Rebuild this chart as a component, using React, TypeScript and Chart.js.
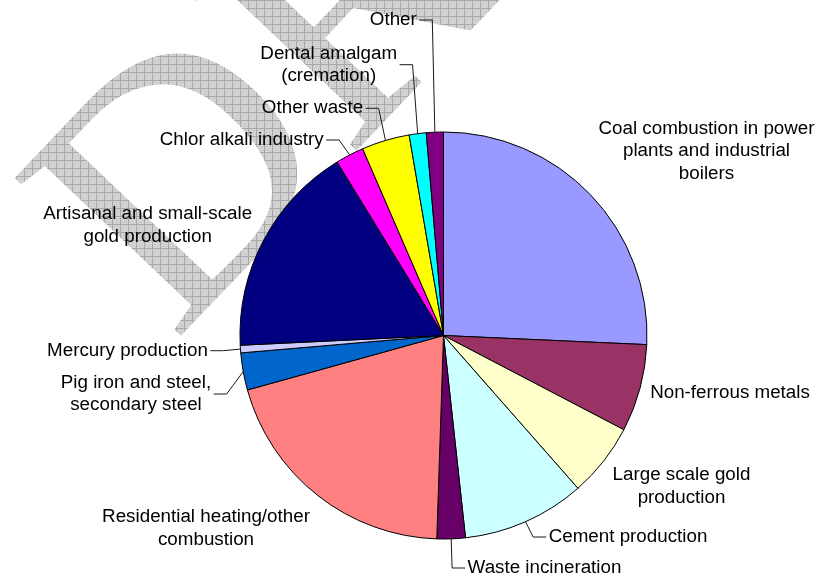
import React, { useEffect, useRef } from "react";
import { Chart, registerables } from "chart.js";

Chart.register(...registerables);

// ---- data ----
const categories = [
  "Coal combustion in power plants and industrial boilers",
  "Non-ferrous metals",
  "Large scale gold production",
  "Cement production",
  "Waste incineration",
  "Residential heating/other combustion",
  "Pig iron and steel, secondary steel",
  "Mercury production",
  "Artisanal and small-scale gold production",
  "Chlor alkali industry",
  "Other waste",
  "Dental amalgam (cremation)",
  "Other",
];

const shares = [25.7, 6.95, 5.85, 9.75, 2.25, 20.15, 2.95, 0.6, 17.0, 2.25, 3.8, 1.35, 1.35];

const labelLines = [
  ["Coal combustion in power", "plants and industrial", "boilers"],
  ["Non-ferrous metals"],
  ["Large scale gold", "production"],
  ["Cement production"],
  ["Waste incineration"],
  ["Residential heating/other", "combustion"],
  ["Pig iron and steel,", "secondary steel"],
  ["Mercury production"],
  ["Artisanal and small-scale", "gold production"],
  ["Chlor alkali industry"],
  ["Other waste"],
  ["Dental amalgam", "(cremation)"],
  ["Other"],
];

const watermarkText = "DRAFT";

// ---- styles / layout ----
const sliceColors = [
  "#9999FF",
  "#993366",
  "#FFFFCC",
  "#CCFFFF",
  "#660066",
  "#FF8080",
  "#0066CC",
  "#CCCCFF",
  "#000080",
  "#FF00FF",
  "#FFFF00",
  "#00FFFF",
  "#800080",
];

// label block centres (canvas px) and whether a leader line is drawn
const labelLayout = [
  { cx: 706.5, cy: 151, leader: false },
  { cx: 730, cy: 393.3, leader: false },
  { cx: 681.5, cy: 486.5, leader: false },
  { cx: 628, cy: 537, leader: true },
  { cx: 544.5, cy: 568, leader: true },
  { cx: 206, cy: 528.5, leader: false },
  { cx: 136, cy: 394, leader: true },
  { cx: 127.5, cy: 350.7, leader: true },
  { cx: 147.7, cy: 225.5, leader: false },
  { cx: 241.7, cy: 140, leader: true },
  { cx: 312.5, cy: 108.3, leader: true },
  { cx: 328.7, cy: 64.7, leader: true },
  { cx: 393.3, cy: 20, leader: true },
];

const FONT = '18.8px "Liberation Sans", Arial, sans-serif';
const LINE_H = 22.6;

const watermarkPlugin = {
  id: "watermark",
  beforeDatasetsDraw(chart: any) {
    const { ctx, width, height } = chart;
    const off = document.createElement("canvas");
    off.width = width;
    off.height = height;
    const o = off.getContext("2d")!;
    o.save();
    o.translate(174, 343);
    o.rotate((-46.5 * Math.PI) / 180);
    o.font = '350px "Liberation Serif", "Times New Roman", serif';
    o.fillStyle = "#000";
    o.textBaseline = "alphabetic";
    o.fillText(watermarkText, 0, 0);
    o.restore();
    const p = document.createElement("canvas");
    p.width = 8;
    p.height = 8;
    const pc = p.getContext("2d")!;
    pc.fillStyle = "#d4d4d4";
    pc.fillRect(0, 0, 8, 8);
    pc.fillStyle = "#c6c6c6";
    for (let i = 0; i < 8; i += 2) for (let j = 0; j < 8; j += 2) pc.fillRect(i + (j % 4 ? 1 : 0), j, 1, 1);
    pc.fillStyle = "#a8a8a8";
    pc.fillRect(0, 0, 8, 1);
    pc.fillRect(0, 0, 1, 8);
    o.globalCompositeOperation = "source-in";
    o.fillStyle = o.createPattern(p, "repeat")!;
    o.fillRect(0, 0, width, height);
    ctx.save();
    ctx.drawImage(off, 0, 0, width, height);
    ctx.restore();
  },
};

const labelPlugin = {
  id: "sliceLabels",
  afterDatasetsDraw(chart: any) {
    const { ctx } = chart;
    const meta = chart.getDatasetMeta(0);
    ctx.save();
    ctx.font = FONT;
    ctx.fillStyle = "#000";
    ctx.textAlign = "center";
    ctx.textBaseline = "middle";
    meta.data.forEach((arc: any, i: number) => {
      const lay = labelLayout[i];
      const lines = labelLines[i];
      const n = lines.length;
      lines.forEach((t, k) => {
        ctx.fillText(t, lay.cx, lay.cy + (k - (n - 1) / 2) * LINE_H);
      });
      if (lay.leader) {
        const mid = (arc.startAngle + arc.endAngle) / 2;
        const ax = arc.x + arc.outerRadius * Math.cos(mid);
        const ay = arc.y + arc.outerRadius * Math.sin(mid);
        const w = Math.max(...lines.map((t) => ctx.measureText(t).width));
        const dir = ax > lay.cx ? 1 : -1;
        const sx = lay.cx + dir * (w / 2 + 2.5);
        const ex = sx + dir * 13;
        ctx.beginPath();
        ctx.strokeStyle = "#1a1a1a";
        ctx.lineWidth = 1;
        ctx.moveTo(sx, lay.cy);
        ctx.lineTo(ex, lay.cy);
        ctx.lineTo(ax, ay);
        ctx.stroke();
      }
    });
    ctx.restore();
  },
};

export default function App() {
  const ref = useRef<HTMLCanvasElement | null>(null);
  useEffect(() => {
    document.body.style.margin = "0";
    const canvas = ref.current!;
    const chart = new Chart(canvas, {
      type: "pie",
      data: {
        labels: categories,
        datasets: [
          {
            data: shares,
            backgroundColor: sliceColors,
            borderColor: "#000",
            borderWidth: 1,
          },
        ],
      },
      options: {
        responsive: false,
        animation: false,
        layout: { padding: { left: 239.5, top: 131.5, right: 170.5, bottom: 39.5 } },
        plugins: {
          legend: { display: false },
          tooltip: { enabled: false },
        },
      },
      plugins: [watermarkPlugin, labelPlugin],
    });
    return () => chart.destroy();
  }, []);
  return (
    <div style={{ width: 818, height: 579, background: "#fff" }}>
      <canvas ref={ref} width={818} height={579} style={{ display: "block" }} />
    </div>
  );
}
